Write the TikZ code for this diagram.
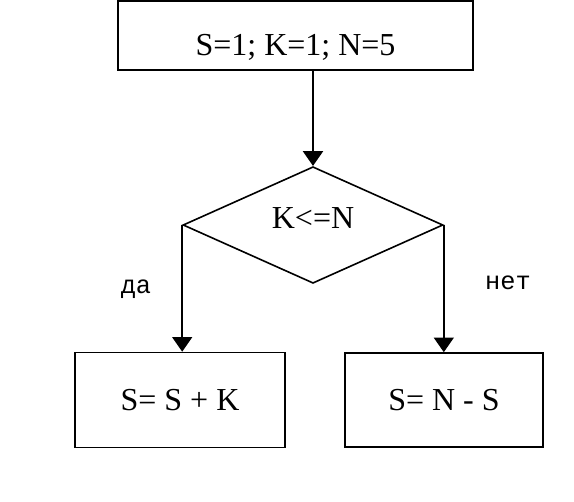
\documentclass[tikz,border=0pt]{standalone}
\usepackage{fontspec}
\setmainfont{Liberation Serif}
\newfontfamily\labelfont{Liberation Mono}
\usetikzlibrary{shapes.geometric,arrows.meta}
\tikzset{
  blockbox/.style={draw,line width=1.2pt,inner sep=0pt},
  branchlabel/.style={font=\labelfont\fontsize{19}{21}\selectfont,inner sep=0pt},
  flowarrow/.style={line width=1.2pt,-{Triangle[length=11pt,width=15pt]}}
}
\begin{document}
\begin{tikzpicture}[x=0.75pt,y=0.75pt,yscale=-1,xscale=1,font=\fontsize{24}{28}\selectfont]
        \useasboundingbox (0,0) rectangle (574,502);
        \draw (295.5,35.5) node [blockbox,minimum width=266.25pt,minimum height=51.75pt] (init) {\rule{0pt}{34pt}S=1; K=1; N=5};
        \draw (313,225) node [blockbox,shape=diamond,minimum width=195pt,minimum height=85.5pt] (cond) {K<=N\rule[-10pt]{0pt}{0pt}};
        \draw (180,400) node [blockbox,minimum width=157.5pt,minimum height=71.25pt] (yesbox) {S= S + K};
        \draw (444,400) node [blockbox,minimum width=148.5pt,minimum height=70.5pt] (nobox) {S= N - S};
        \draw (136,289) node [branchlabel] (yeslabel) {да};
        \draw (508,283) node [branchlabel] (nolabel) {нет};
        % connectors
        \draw [flowarrow] (init.south -| cond.north) -- (cond.north);
        \draw [flowarrow] (cond.west) -- (cond.west |- yesbox.north);
        \draw [flowarrow] (cond.east) -- (cond.east |- nobox.north);
    \end{tikzpicture}
\end{document}
